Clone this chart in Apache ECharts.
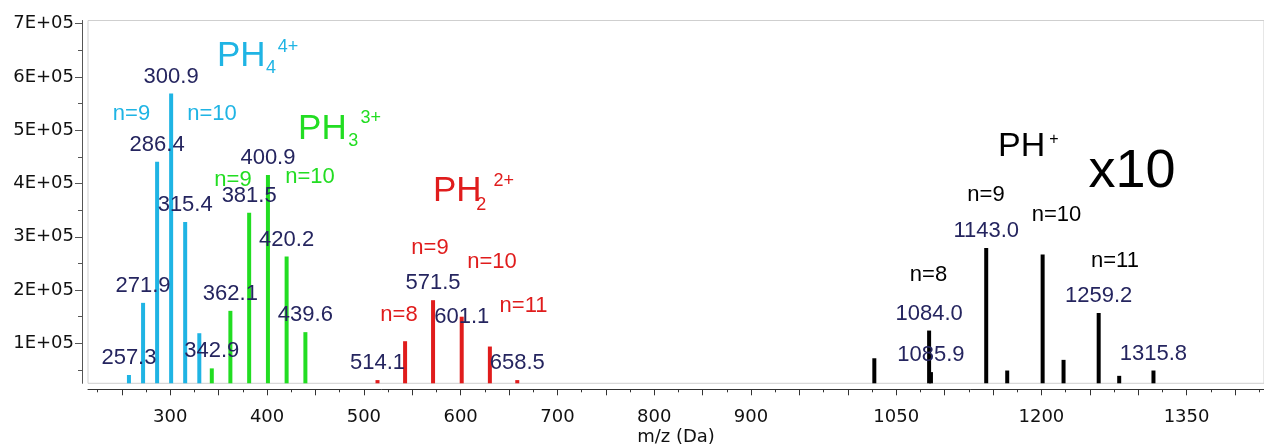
<!DOCTYPE html>
<html>
<head>
<meta charset="utf-8">
<script src="https://cdn.jsdelivr.net/npm/echarts@6/dist/echarts.min.js"></script>
<style>
  html, body { margin: 0; padding: 0; background: #fff; }
  #chart { width: 1264px; height: 447px; }
</style>
</head>
<body>
<div id="chart"></div>
<script>
// peaks (m/z, intensity), one pair of arrays per charge state
const ph4Mz = [257.3, 271.9, 286.4, 300.9, 315.4, 330.0];
const ph4Int = [40600, 176000, 441000, 569000, 328000, 119000];
const ph3Mz = [342.9, 362.1, 381.5, 400.9, 420.2, 439.6];
const ph3Int = [53000, 161000, 345000, 416000, 263000, 121000];
const ph2Mz = [514.1, 542.6, 571.5, 601.1, 630.2, 658.5];
const ph2Int = [31000, 104000, 181000, 150000, 94000, 31000];
// PH+ shown x10
const ph1Mz = [1027.4, 1084.0, 1085.9, 1143.0, 1164.7, 1201.3, 1222.9, 1259.2, 1280.4, 1315.8];
const ph1Int = [72000, 124000, 46000, 279000, 49000, 267000, 69000, 157000, 39000, 49000];

// peaks that carry an m/z label
const labelled = ['257.3', '271.9', '286.4', '300.9', '315.4', '342.9', '362.1', '381.5', '400.9',
  '420.2', '439.6', '514.1', '571.5', '601.1', '658.5', '1084.0', '1085.9', '1143.0', '1259.2', '1315.8'];

// axis tick labels
const xLabels = [300, 400, 500, 600, 700, 800, 900, 1050, 1200, 1350];
const yLabels = [100000, 200000, 300000, 400000, 500000, 600000, 700000];
const yMinor = [50000, 150000, 250000, 350000, 450000, 550000, 650000];

// ---- layout ----
const BLUE = '#1fb4e4', GREEN = '#22dd22', RED = '#e01c1c', NAVY = '#25255f';
const SANS = '"Liberation Sans", Arial, sans-serif';
const AXF = '"DejaVu Sans", sans-serif';

const xMajor = [], xMinorTicks = [];
for (let v = 250; v <= 1400; v += 50) xMajor.push(v);
for (let v = 225; v <= 1425; v += 50) xMinorTicks.push(v);

// text annotations in data coordinates
const notes = [
  { at: [348.3, 639000], text: 'PH', color: BLUE, size: 35 },
  { at: [399.0, 616000], text: '4', color: BLUE, size: 18 },
  { at: [411.0, 657000], text: '4+', color: BLUE, size: 18 },
  { at: [259.9, 530500], text: 'n=9', color: BLUE, size: 22, center: true },
  { at: [343.1, 530500], text: 'n=10', color: BLUE, size: 22, center: true },

  { at: [432.0, 502000], text: 'PH', color: GREEN, size: 35 },
  { at: [484.0, 479000], text: '3', color: GREEN, size: 18 },
  { at: [496.5, 522000], text: '3+', color: GREEN, size: 18 },
  { at: [364.8, 407600], text: 'n=9', color: GREEN, size: 22, center: true },
  { at: [444.4, 412200], text: 'n=10', color: GREEN, size: 22, center: true },

  { at: [571.4, 385000], text: 'PH', color: RED, size: 35 },
  { at: [616.0, 359000], text: '2', color: RED, size: 18 },
  { at: [634.0, 405000], text: '2+', color: RED, size: 18 },
  { at: [568.3, 279900], text: 'n=9', color: RED, size: 22, center: true },
  { at: [632.4, 253600], text: 'n=10', color: RED, size: 22, center: true },
  { at: [665.0, 171000], text: 'n=11', color: RED, size: 22, center: true },
  { at: [536.3, 153200], text: 'n=8', color: RED, size: 22, center: true },

  { at: [1155.2, 469500], text: 'PH', color: '#000', size: 34 },
  { at: [1208.0, 482000], text: '+', color: '#000', size: 16 },
  { at: [1293.6, 421600], text: 'x10', color: '#000', size: 54, center: true },
  { at: [1142.8, 379400], text: 'n=9', color: '#000', size: 22, center: true },
  { at: [1215.6, 340900], text: 'n=10', color: '#000', size: 22, center: true },
  { at: [1083.4, 229200], text: 'n=8', color: '#000', size: 22, center: true },
  { at: [1276.0, 255500], text: 'n=11', color: '#000', size: 22, center: true }
];

// label sitting on the bar top instead of above it
const labelShift = { '601.1': [0, 17] };

function peaks(mz, ints) {
  return mz.map((m, i) => {
    const key = m.toFixed(1);
    return {
      value: [m, ints[i]],
      label: { show: labelled.includes(key), offset: labelShift[key] || [0, 0] }
    };
  });
}

function barSeries(name, mz, ints, color) {
  return {
    name: name,
    type: 'bar',
    xAxisIndex: 0,
    yAxisIndex: 0,
    barWidth: 4,
    barGap: '-100%',
    itemStyle: { color: color },
    label: {
      position: 'top',
      distance: 6,
      color: NAVY,
      fontFamily: SANS,
      fontSize: 22,
      formatter: p => p.value[0].toFixed(1)
    },
    data: peaks(mz, ints)
  };
}

const chart = echarts.init(document.getElementById('chart'));

const option = {
  animation: false,
  backgroundColor: '#fff',
  grid: {
    left: 88, top: 20.5, right: 0, bottom: 63.7,
    containLabel: false,
    outerBoundsMode: 'none',
    show: true, borderColor: '#cfcfcf', borderWidth: 1
  },
  xAxis: [
    {
      type: 'value', min: 215, max: 1430, position: 'bottom', offset: 6,
      axisLine: { lineStyle: { color: '#333', width: 1 } },
      axisTick: { customValues: xMajor, length: 6, lineStyle: { color: '#333' } },
      axisLabel: {
        customValues: xLabels, margin: 19, color: '#111',
        fontFamily: AXF, fontSize: 18, formatter: v => String(v)
      },
      splitLine: { show: false },
      name: 'm/z (Da)', nameLocation: 'middle', nameGap: 39, nameMoveOverlap: false,
      nameTextStyle: { color: '#111', fontFamily: AXF, fontSize: 18 }
    },
    {
      type: 'value', min: 215, max: 1430, position: 'bottom', offset: 6,
      axisLine: { show: false },
      axisTick: { customValues: xMinorTicks, length: 3, lineStyle: { color: '#333' } },
      axisLabel: { show: false },
      splitLine: { show: false }
    }
  ],
  yAxis: [
    {
      type: 'value', min: 25000, max: 706000, position: 'left', offset: 6,
      axisLine: { show: true, lineStyle: { color: '#555', width: 1 } },
      axisTick: { show: true, customValues: yLabels, length: 7, lineStyle: { color: '#555' } },
      axisLabel: {
        customValues: yLabels, margin: 8, color: '#111',
        fontFamily: AXF, fontSize: 18,
        formatter: v => (v / 100000) + 'E+05'
      },
      splitLine: { show: false }
    },
    {
      type: 'value', min: 25000, max: 706000, position: 'left', offset: 6,
      axisLine: { show: false },
      axisTick: { show: true, customValues: yMinor, length: 4, lineStyle: { color: '#555' } },
      axisLabel: { show: false },
      splitLine: { show: false }
    }
  ],
  series: [
    barSeries('PH4 4+', ph4Mz, ph4Int, BLUE),
    barSeries('PH3 3+', ph3Mz, ph3Int, GREEN),
    barSeries('PH2 2+', ph2Mz, ph2Int, RED),
    barSeries('PH+ x10', ph1Mz, ph1Int, '#000'),
    {
      name: 'notes',
      type: 'scatter',
      xAxisIndex: 0,
      yAxisIndex: 0,
      symbolSize: 0,
      silent: true,
      z: 5,
      itemStyle: { opacity: 1 },
      data: notes.map(n => ({
        value: n.at,
        label: {
          show: true,
          position: 'inside',
          formatter: n.text,
          color: n.color,
          opacity: 1,
          fontFamily: SANS,
          fontSize: n.size,
          align: n.center ? 'center' : 'left',
          verticalAlign: 'middle'
        }
      }))
    }
  ]
};

chart.setOption(option);

window.addEventListener('resize', () => {
  chart.resize();
});
</script>
</body>
</html>
